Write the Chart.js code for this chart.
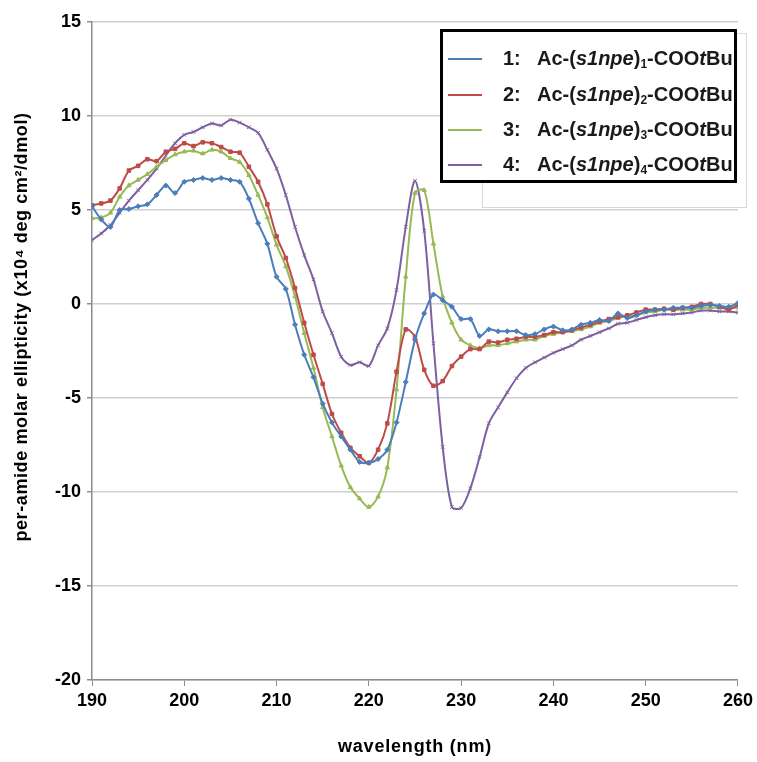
<!DOCTYPE html>
<html>
<head>
<meta charset="utf-8">
<script src="https://cdn.jsdelivr.net/npm/chart.js@4.4.1/dist/chart.umd.min.js"></script>
<style>
body { margin: 0; background: #fff; }
#wrap { position: relative; width: 757px; height: 762px; font-family: "Liberation Sans", Arial, sans-serif; }
#legendBack { position: absolute; left: 482px; top: 33px; width: 263px; height: 173px; border: 1px solid #d9d9d9; background: #fff; }
#legend { position: absolute; left: 440px; top: 29px; width: 291px; height: 148px; border: 3px solid #000; background: #fff; }
.row { position: absolute; left: 0; height: 26px; width: 291px; font-weight: bold; font-size: 20px; color: #1a1a1a; }
.row .swatch { position: absolute; left: 5px; top: 12px; width: 34px; height: 0; border-top: 2px solid; }
.row .num { position: absolute; left: 60px; top: 1px; }
.row .txt { position: absolute; left: 94px; top: 1px; white-space: nowrap; }
.row sub { font-size: 12px; vertical-align: -3px; }
</style>
</head>
<body>
<div id="wrap">
  <canvas id="cdChart" width="757" height="762"></canvas>
  <div id="legendBack"></div>
  <div id="legend"></div>
</div>
<script>
// wavelength (nm)
const wavelengths = [190, 191, 192, 193, 194, 195, 196, 197, 198, 199,
  200, 201, 202, 203, 204, 205, 206, 207, 208, 209,
  210, 211, 212, 213, 214, 215, 216, 217, 218, 219,
  220, 221, 222, 223, 224, 225, 226, 227, 228, 229,
  230, 231, 232, 233, 234, 235, 236, 237, 238, 239,
  240, 241, 242, 243, 244, 245, 246, 247, 248, 249,
  250, 251, 252, 253, 254, 255, 256, 257, 258, 259, 260];

// per-amide molar ellipticity (x10^4 deg cm2/dmol)
const s1 = [5.2, 4.5, 4.1, 5.0, 5.05, 5.2, 5.3, 5.8, 6.3, 5.9,
  6.5, 6.6, 6.7, 6.6, 6.7, 6.6, 6.5, 5.6, 4.3, 3.2,
  1.45, 0.8, -1.1, -2.7, -3.9, -5.3, -6.3, -7.05, -7.75, -8.4,
  -8.45, -8.25, -7.75, -6.3, -4.15, -1.9, -0.5, 0.5, 0.2, -0.15,
  -0.8, -0.8, -1.7, -1.35, -1.45, -1.45, -1.45, -1.65, -1.6, -1.35,
  -1.2, -1.4, -1.35, -1.1, -1.0, -0.85, -0.9, -0.5, -0.75, -0.6,
  -0.4, -0.3, -0.3, -0.2, -0.2, -0.2, -0.1, -0.05, -0.1, -0.15, 0.05];

const s2 = [5.25, 5.35, 5.5, 6.15, 7.1, 7.35, 7.7, 7.6, 8.1, 8.25,
  8.55, 8.4, 8.6, 8.55, 8.35, 8.1, 8.05, 7.3, 6.5, 5.3,
  3.6, 2.45, 0.85, -1.0, -2.7, -4.25, -5.85, -6.85, -7.65, -8.1,
  -8.45, -7.75, -6.35, -3.6, -1.35, -1.75, -3.5, -4.35, -4.1, -3.3,
  -2.8, -2.4, -2.4, -2.0, -2.05, -1.9, -1.85, -1.75, -1.75, -1.65,
  -1.5, -1.5, -1.4, -1.25, -1.1, -0.95, -0.8, -0.7, -0.6, -0.45,
  -0.3, -0.3, -0.25, -0.3, -0.2, -0.15, 0.0, 0.0, -0.15, -0.3, -0.05];

const s3 = [4.55, 4.6, 4.85, 5.7, 6.3, 6.6, 6.9, 7.3, 7.65, 7.95,
  8.1, 8.15, 8.0, 8.2, 8.1, 7.75, 7.55, 6.85, 5.8, 4.6,
  3.15, 2.0, 0.4, -1.55, -3.4, -5.5, -7.05, -8.6, -9.75, -10.35,
  -10.8, -10.25, -8.7, -4.55, 1.45, 5.9, 6.05, 3.2, 0.4, -1.0,
  -1.9, -2.2, -2.35, -2.2, -2.2, -2.1, -2.0, -1.9, -1.9, -1.7,
  -1.6, -1.5, -1.45, -1.35, -1.2, -1.0, -0.9, -0.75, -0.65, -0.6,
  -0.45, -0.4, -0.3, -0.3, -0.3, -0.3, -0.2, -0.2, -0.2, -0.2, -0.2];

const s4 = [3.4, 3.75, 4.2, 4.85, 5.5, 6.05, 6.6, 7.2, 7.9, 8.55,
  9.0, 9.15, 9.4, 9.6, 9.5, 9.8, 9.65, 9.4, 9.1, 8.2,
  7.2, 5.8, 4.1, 2.6, 1.3, -0.4, -1.55, -2.8, -3.25, -3.1,
  -3.3, -2.2, -1.3, 0.75, 4.1, 6.55, 3.9, -2.1, -7.6, -10.8,
  -10.85, -9.8, -8.15, -6.35, -5.5, -4.7, -3.95, -3.4, -3.1, -2.85,
  -2.6, -2.4, -2.2, -1.9, -1.7, -1.5, -1.3, -1.05, -1.0, -0.85,
  -0.7, -0.6, -0.55, -0.55, -0.5, -0.45, -0.35, -0.35, -0.4, -0.4, -0.45];

const seriesNames = ['1:', '2:', '3:', '4:'];
const seriesValues = [s1, s2, s3, s4];
const colors = ['#4a7ebb', '#be4b48', '#98b954', '#7d60a0'];
const markers = ['rectRot', 'rect', 'triangle', 'crossRot'];

const xTitle = 'wavelength (nm)';
const yTitle = 'per-amide molar ellipticity (x10\u2074 deg cm\u00b2/dmol)';

const font = "'Liberation Sans', Arial, sans-serif";

const datasets = seriesValues.map((vals, i) => ({
  label: seriesNames[i],
  data: wavelengths.map((w, j) => ({ x: w, y: vals[j] })),
  borderColor: colors[i],
  backgroundColor: colors[i],
  borderWidth: 2,
  pointStyle: markers[i],
  pointRadius: 2.5,
  pointBorderWidth: 1,
  tension: 0.3
}));

// axis titles drawn by hand so spacing and placement follow the original
const axisTitles = {
  id: 'axisTitles',
  afterDraw(chart) {
    const c = chart.ctx;
    c.save();
    c.fillStyle = '#000';
    c.textAlign = 'center';
    c.textBaseline = 'middle';
    c.letterSpacing = '0.8px';
    c.font = 'bold 18px ' + font;
    c.fillText(xTitle, 415, 747);
    c.letterSpacing = '0.6px';
    c.translate(22, 327);
    c.rotate(-Math.PI / 2);
    c.fillText(yTitle, 0, 0);
    c.restore();
  }
};

const ctx = document.getElementById('cdChart').getContext('2d');

new Chart(ctx, {
  type: 'line',
  data: { datasets: datasets },
  plugins: [axisTitles],
  options: {
    responsive: false,
    animation: false,
    layout: { padding: { top: 22, right: 18, left: 0, bottom: 0 } },
    plugins: {
      legend: { display: false },
      tooltip: { enabled: false }
    },
    scales: {
      x: {
        type: 'linear',
        min: 190,
        max: 260,
        afterFit: scale => { scale.height = 82; },
        ticks: {
          stepSize: 10,
          color: '#000',
          padding: 4,
          font: { family: font, size: 18, weight: 'bold' }
        },
        grid: { drawOnChartArea: false, tickLength: 6, color: '#8c8c8c' },
        border: { color: '#8c8c8c', width: 1.5 }
      },
      y: {
        min: -20,
        max: 15,
        afterFit: scale => { scale.width = 92; },
        ticks: {
          stepSize: 5,
          color: '#000',
          padding: 6,
          font: { family: font, size: 18, weight: 'bold' }
        },
        grid: { color: '#d0d0d0', lineWidth: 1.5, tickLength: 5, tickColor: '#8c8c8c' },
        border: { color: '#8c8c8c', width: 1.5 }
      }
    }
  }
});

// legend box drawn over the plot, like the original
const legend = document.getElementById('legend');
const rowTops = [14, 50, 85, 120];
seriesNames.forEach((name, i) => {
  const n = i + 1;
  const row = document.createElement('div');
  row.className = 'row';
  row.style.top = rowTops[i] + 'px';
  row.innerHTML =
    '<span class="swatch" style="border-color:' + colors[i] + '"></span>' +
    '<span class="num">' + name + '</span>' +
    '<span class="txt">Ac-(<i>s1npe</i>)<sub>' + n + '</sub>-COO<i>t</i>Bu</span>';
  legend.appendChild(row);
});
</script>
</body>
</html>
